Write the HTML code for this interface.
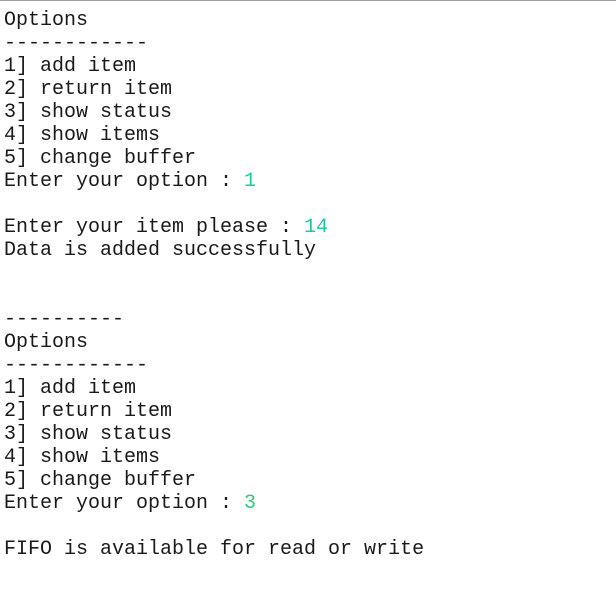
<!DOCTYPE html>
<html><head><meta charset="utf-8"><style>
html,body{margin:0;padding:0;background:#fff;width:616px;height:607px;overflow:hidden}
body{border-top:1px solid #a0a0a0;box-sizing:border-box}
pre{margin:0;padding:8px 0 0 4px;font-family:"Liberation Mono","Courier New",monospace;font-size:20px;line-height:23px;color:#1a1a1a}
.c{color:#1fc7a6}
.g{color:#3cc47c}
</style></head><body><pre>Options
------------
1] add item
2] return item
3] show status
4] show items
5] change buffer
Enter your option : <span class="c">1</span>

Enter your item please : <span class="c">14</span>
Data is added successfully


----------
Options
------------
1] add item
2] return item
3] show status
4] show items
5] change buffer
Enter your option : <span class="g">3</span>

FIFO is available for read or write</pre></body></html>
